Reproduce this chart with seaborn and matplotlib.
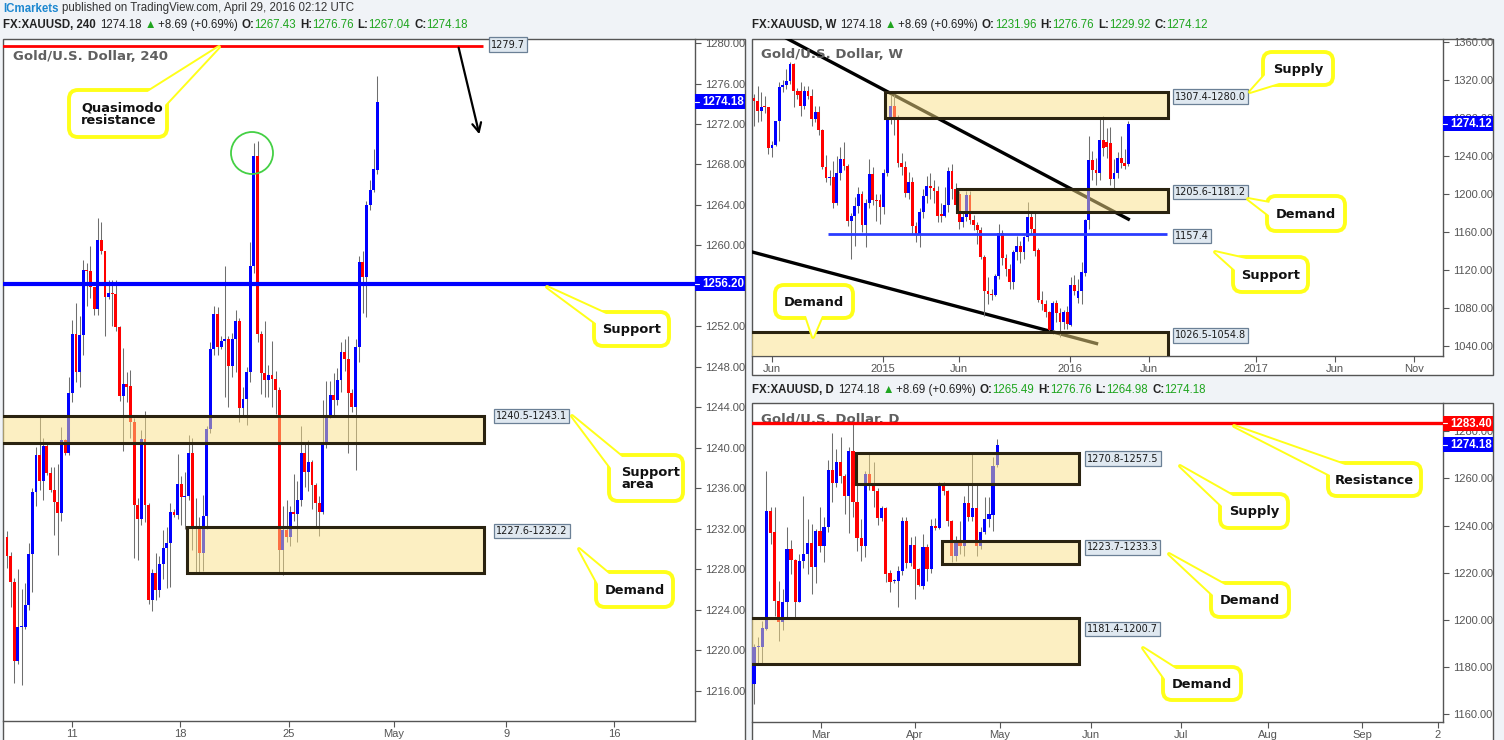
import numpy as np
import matplotlib
matplotlib.use("Agg")
import matplotlib.pyplot as plt
import seaborn as sns
from matplotlib.patches import Rectangle, FancyBboxPatch, Polygon, Circle

sns.set_theme(style="white")
plt.rcParams['font.family'] = ['Liberation Sans', 'DejaVu Sans']

W, H = 1504, 740

# ---------------- 4H candles (XAUUSD, April 2016) ----------------
h4_open = [1231.2, 1229.3, 1226.7, 1218.9, 1222.3, 1222.3, 1224.5, 1229.5, 1235.6, 1239.3,
           1236.7, 1240.2, 1237.5, 1235.8, 1234.6, 1233.6, 1240.8, 1239.5, 1245.4, 1251.2,
           1247.5, 1251.1, 1257.6, 1257.5, 1255.9, 1253.7, 1260.5, 1259.4, 1254.9, 1255.3,
           1255.2, 1251.9, 1245.1, 1246.3, 1246.1, 1242.5, 1234.3, 1233.0, 1240.9, 1234.3,
           1225.0, 1227.6, 1225.9, 1228.5, 1230.1, 1230.6, 1233.7, 1233.4, 1236.4, 1235.1,
           1235.2, 1239.5, 1232.0, 1232.3, 1229.6, 1233.3, 1241.9, 1249.8, 1253.2, 1250.0,
           1250.6, 1250.8, 1248.1, 1250.8, 1252.5, 1243.9, 1244.8, 1247.5, 1258.0, 1268.8,
           1251.2, 1247.4, 1246.7, 1247.2, 1246.8, 1245.7, 1229.9, 1231.9, 1231.2, 1233.7,
           1233.5, 1234.8, 1239.5, 1237.6, 1238.6, 1236.3, 1234.5, 1233.7, 1240.6, 1243.1,
           1245.2, 1244.7, 1246.7, 1249.5, 1248.8, 1245.4, 1244.0, 1250.0, 1258.4, 1256.9,
           1264.0, 1265.5, 1267.43]
h4_close = [1229.3, 1226.7, 1218.9, 1222.3, 1222.4, 1224.5, 1229.5, 1235.6, 1239.3, 1236.7,
            1240.2, 1237.5, 1235.8, 1234.6, 1233.6, 1240.8, 1239.5, 1245.4, 1251.2, 1247.5,
            1251.1, 1257.6, 1257.5, 1255.9, 1253.7, 1260.5, 1259.4, 1254.9, 1255.3, 1255.2,
            1251.9, 1245.1, 1246.3, 1246.0, 1242.5, 1234.3, 1233.0, 1240.9, 1234.3, 1225.0,
            1227.6, 1225.9, 1228.5, 1230.1, 1230.6, 1233.7, 1233.4, 1236.4, 1235.1, 1235.2,
            1239.5, 1232.0, 1232.3, 1229.6, 1233.3, 1241.9, 1249.8, 1253.2, 1250.0, 1250.6,
            1250.8, 1248.1, 1250.8, 1252.5, 1243.9, 1244.8, 1247.5, 1258.0, 1268.8, 1251.2,
            1247.4, 1246.7, 1247.2, 1246.8, 1245.7, 1229.9, 1231.9, 1231.2, 1233.7, 1233.5,
            1234.8, 1239.5, 1237.6, 1238.6, 1236.3, 1234.5, 1233.7, 1240.6, 1243.1, 1245.2,
            1244.7, 1246.7, 1249.5, 1248.8, 1245.4, 1244.0, 1250.0, 1258.4, 1256.9, 1264.0,
            1265.5, 1267.6, 1274.18]
h4_high = [1231.8, 1229.7, 1227.1, 1228.0, 1226.0, 1226.6, 1230.6, 1236.0, 1240.1, 1243.1,
           1241.0, 1240.4, 1238.1, 1238.1, 1238.4, 1242.1, 1240.9, 1247.0, 1252.6, 1254.3,
           1253.0, 1258.6, 1258.3, 1259.9, 1255.9, 1262.7, 1262.3, 1259.4, 1256.6, 1256.6,
           1256.6, 1252.0, 1249.9, 1247.5, 1247.7, 1242.9, 1235.0, 1241.8, 1243.6, 1234.5,
           1228.0, 1229.6, 1229.3, 1231.9, 1232.2, 1234.5, 1234.0, 1239.4, 1237.2, 1237.6,
           1241.3, 1241.0, 1235.0, 1233.2, 1235.3, 1242.2, 1250.5, 1254.0, 1253.9, 1251.0,
           1258.0, 1251.0, 1251.3, 1253.6, 1252.8, 1246.0, 1248.0, 1260.3, 1270.1, 1270.3,
           1251.5, 1252.5, 1248.2, 1250.6, 1247.6, 1246.0, 1234.2, 1234.8, 1234.2, 1237.4,
           1236.7, 1242.2, 1240.5, 1240.8, 1238.8, 1236.5, 1235.2, 1244.7, 1246.6, 1246.6,
           1247.4, 1247.9, 1250.5, 1250.8, 1251.0, 1245.8, 1250.8, 1259.0, 1259.4, 1264.4,
           1266.5, 1269.5, 1276.76]
h4_low = [1228.1, 1224.3, 1216.8, 1218.6, 1216.6, 1222.1, 1224.0, 1225.7, 1234.2, 1235.8,
          1234.8, 1237.3, 1235.6, 1231.4, 1229.4, 1232.8, 1239.3, 1239.3, 1244.5, 1246.5,
          1246.0, 1249.2, 1254.0, 1254.8, 1253.1, 1253.1, 1259.2, 1251.0, 1254.7, 1252.0,
          1251.5, 1244.6, 1239.7, 1244.5, 1241.0, 1229.1, 1228.9, 1232.4, 1232.7, 1224.6,
          1223.9, 1225.0, 1225.3, 1227.0, 1226.1, 1226.2, 1233.2, 1233.0, 1232.4, 1232.0,
          1234.8, 1229.9, 1227.7, 1227.6, 1227.8, 1232.0, 1241.5, 1249.2, 1249.2, 1249.8,
          1245.0, 1244.0, 1247.0, 1247.5, 1242.5, 1243.0, 1242.3, 1246.5, 1257.3, 1250.5,
          1245.3, 1245.0, 1245.0, 1244.0, 1243.3, 1227.7, 1227.4, 1230.7, 1230.3, 1232.8,
          1230.7, 1234.2, 1236.1, 1235.7, 1234.0, 1232.3, 1231.3, 1233.5, 1240.0, 1242.9,
          1243.0, 1244.2, 1245.5, 1247.6, 1239.5, 1243.5, 1237.8, 1248.5, 1253.3, 1252.9,
          1263.5, 1265.3, 1267.04]
h4_ticks = [17.9, 47.7, 77.7, 106.6, 137.5, 167.2]
h4_tick_labels = ['11', '18', '25', 'May', '9', '16']
h4_price_ticks = [1216, 1220, 1224, 1228, 1232, 1236, 1240, 1244, 1248, 1252, 1260, 1264, 1268,
                  1272, 1276, 1280]

# ---------------- Weekly candles (Apr 2014 - Apr 2016) ----------------
w_open = [1301.3, 1298.5, 1287.2, 1292.1, 1291.4, 1248.5, 1252.0, 1276.7, 1313.3, 1315.4,
          1319.6, 1337.2, 1308.3, 1309.0, 1292.8, 1309.0, 1303.8, 1279.1, 1286.2, 1267.5,
          1228.1, 1216.8, 1218.3, 1190.1, 1221.8, 1236.9, 1229.9, 1171.1, 1177.1, 1187.7,
          1200.0, 1167.6, 1190.1, 1221.1, 1193.6, 1193.6, 1185.9, 1221.8, 1279.1, 1293.2,
          1280.2, 1232.3, 1228.8, 1200.7, 1212.3, 1166.6, 1157.1, 1180.6, 1198.2, 1208.8,
          1206.3, 1203.5, 1178.9, 1177.1, 1188.7, 1223.9, 1205.3, 1200.0, 1170.1, 1176.1,
          1199.3, 1172.5, 1167.6, 1162.0, 1133.8, 1097.9, 1094.4, 1093.7, 1113.8, 1158.5,
          1132.4, 1120.8, 1106.7, 1138.4, 1145.4, 1138.4, 1154.2, 1176.1, 1163.0, 1140.9,
          1088.1, 1083.9, 1075.1, 1056.4, 1084.6, 1074.0, 1064.5, 1075.8, 1061.7, 1104.3,
          1090.0, 1097.3, 1116.6, 1172.9, 1236.2, 1225.3, 1221.8, 1256.6, 1254.5, 1253.4,
          1215.8, 1221.8, 1238.0, 1232.3, 1231.96]
w_close = [1297.8, 1287.2, 1292.1, 1291.4, 1248.5, 1252.0, 1276.7, 1313.3, 1315.4, 1319.6,
           1337.2, 1308.3, 1305.0, 1292.8, 1309.0, 1303.8, 1279.1, 1286.2, 1267.5, 1228.1,
           1216.8, 1217.6, 1190.1, 1221.8, 1236.9, 1229.9, 1171.1, 1177.1, 1187.7, 1200.0,
           1167.6, 1190.1, 1221.1, 1193.6, 1192.9, 1185.9, 1221.8, 1279.1, 1293.2, 1280.2,
           1232.3, 1228.8, 1200.7, 1212.3, 1166.6, 1157.1, 1180.6, 1198.2, 1208.8, 1206.3,
           1203.5, 1177.1, 1177.1, 1188.7, 1223.9, 1205.3, 1188.7, 1170.1, 1176.1, 1199.3,
           1172.5, 1167.6, 1162.0, 1133.1, 1097.9, 1094.4, 1093.7, 1113.8, 1158.5, 1132.4,
           1120.8, 1106.7, 1138.4, 1145.4, 1138.4, 1154.2, 1176.1, 1163.0, 1140.2, 1088.1,
           1083.9, 1075.1, 1056.4, 1084.6, 1074.0, 1064.5, 1075.8, 1062.8, 1104.3, 1097.3,
           1097.3, 1117.3, 1172.9, 1236.2, 1225.3, 1221.8, 1256.6, 1248.8, 1249.2, 1215.8,
           1221.8, 1238.0, 1232.3, 1229.9, 1274.12]
w_high = [1305.5, 1314.3, 1307.3, 1303.8, 1292.0, 1256.3, 1277.4, 1317.8, 1320.0, 1331.9,
          1338.9, 1338.0, 1312.0, 1317.8, 1314.0, 1314.3, 1310.8, 1292.8, 1293.2, 1268.6,
          1241.0, 1225.0, 1235.1, 1240.4, 1249.2, 1254.5, 1232.0, 1180.0, 1196.5, 1207.0,
          1203.0, 1195.0, 1236.9, 1228.0, 1200.0, 1200.0, 1226.4, 1280.0, 1304.8, 1304.8,
          1283.0, 1243.0, 1235.1, 1222.8, 1218.0, 1170.0, 1185.0, 1205.0, 1219.3, 1222.0,
          1215.0, 1208.0, 1190.0, 1207.0, 1228.1, 1231.6, 1212.0, 1203.5, 1182.0, 1203.5,
          1203.0, 1178.0, 1170.0, 1165.0, 1136.0, 1112.0, 1100.0, 1116.0, 1168.3, 1162.0,
          1137.0, 1126.0, 1140.9, 1156.0, 1150.0, 1156.0, 1191.2, 1182.4, 1182.0, 1143.0,
          1097.9, 1088.0, 1077.0, 1087.4, 1088.0, 1080.0, 1078.0, 1082.0, 1112.0, 1115.0,
          1110.0, 1127.8, 1174.0, 1261.5, 1245.0, 1238.0, 1281.2, 1282.6, 1270.0, 1270.3,
          1237.0, 1243.9, 1261.5, 1248.0, 1276.76]
w_low = [1272.1, 1275.6, 1277.4, 1285.0, 1242.2, 1239.4, 1251.0, 1256.3, 1308.0, 1311.0,
         1316.0, 1291.4, 1300.0, 1282.6, 1290.0, 1300.0, 1272.1, 1276.0, 1262.0, 1226.4,
         1212.3, 1209.0, 1185.0, 1188.0, 1215.0, 1225.0, 1166.6, 1131.4, 1145.4, 1180.0,
         1160.0, 1143.7, 1185.0, 1188.0, 1171.8, 1168.0, 1179.0, 1219.0, 1274.0, 1262.0,
         1228.1, 1220.0, 1197.0, 1195.0, 1157.8, 1149.0, 1143.7, 1175.0, 1190.0, 1195.0,
         1190.0, 1170.0, 1170.0, 1176.0, 1181.0, 1195.0, 1180.0, 1163.0, 1165.0, 1172.0,
         1168.0, 1162.0, 1147.2, 1131.4, 1071.6, 1083.9, 1088.0, 1092.7, 1110.0, 1125.0,
         1113.0, 1099.7, 1100.0, 1130.0, 1127.0, 1131.4, 1150.0, 1158.0, 1135.0, 1085.6,
         1078.0, 1070.0, 1054.0, 1052.2, 1065.0, 1048.7, 1058.0, 1058.0, 1061.0, 1093.0,
         1085.0, 1083.9, 1113.0, 1163.0, 1214.7, 1210.0, 1215.0, 1240.0, 1238.0, 1210.0,
         1205.3, 1217.0, 1227.0, 1226.0, 1229.92]
w_ticks = [5.0, 35.8, 57.0, 87.8, 109.7, 139.4, 161.4, 183.3]
w_tick_labels = ['Jun', '2015', 'Jun', '2016', 'Jun', '2017', 'Jun', 'Nov']
w_price_ticks = [1040, 1080, 1120, 1160, 1200, 1240, 1280, 1320, 1360]

# ---------------- Daily candles (Feb - Apr 2016) ----------------
d_open = [1172.9, 1188.7, 1188.4, 1196.2, 1246.3, 1237.1, 1208.2, 1199.0, 1207.5, 1230.1,
          1225.4, 1207.8, 1225.1, 1228.0, 1232.6, 1222.3, 1237.8, 1231.2, 1239.3, 1263.5,
          1257.9, 1266.8, 1261.1, 1252.4, 1271.5, 1249.8, 1234.7, 1231.5, 1261.9, 1257.3,
          1254.5, 1243.2, 1247.4, 1219.8, 1216.4, 1216.4, 1220.6, 1241.8, 1224.0, 1231.9,
          1221.6, 1214.5, 1230.8, 1221.6, 1240.0, 1239.0, 1257.3, 1254.5, 1241.8, 1227.0,
          1232.5, 1231.5, 1249.7, 1243.5, 1247.4, 1231.5, 1237.1, 1242.8, 1244.6, 1265.49]
d_close = [1188.7, 1188.8, 1196.6, 1246.3, 1236.7, 1208.2, 1199.0, 1207.5, 1230.1, 1225.4,
           1207.8, 1225.1, 1228.0, 1232.6, 1222.3, 1237.8, 1231.2, 1239.3, 1263.5, 1257.9,
           1266.8, 1261.1, 1252.4, 1271.7, 1249.8, 1234.7, 1231.5, 1261.9, 1257.3, 1254.5,
           1243.2, 1247.4, 1219.5, 1216.2, 1216.7, 1220.9, 1241.8, 1224.0, 1231.9, 1221.6,
           1215.0, 1230.8, 1221.6, 1240.0, 1239.0, 1257.3, 1254.5, 1241.8, 1227.0, 1232.5,
           1231.5, 1249.7, 1243.5, 1247.4, 1231.5, 1237.1, 1242.8, 1244.9, 1265.4, 1274.18]
d_high = [1190.0, 1192.6, 1199.7, 1263.3, 1248.0, 1248.0, 1216.7, 1213.1, 1239.5, 1233.9,
          1226.0, 1228.0, 1252.7, 1242.8, 1240.7, 1238.5, 1248.0, 1243.8, 1267.8, 1279.2,
          1272.4, 1277.7, 1262.0, 1273.2, 1283.0, 1261.1, 1242.8, 1263.3, 1270.3, 1266.8,
          1256.0, 1248.4, 1248.0, 1221.0, 1217.5, 1223.0, 1243.5, 1243.8, 1235.0, 1235.7,
          1222.0, 1236.4, 1232.2, 1242.8, 1243.2, 1258.3, 1258.3, 1255.0, 1242.5, 1235.7,
          1242.1, 1252.7, 1257.9, 1270.3, 1257.9, 1239.3, 1252.2, 1252.2, 1269.2, 1276.76]
d_low = [1164.4, 1181.3, 1181.3, 1195.8, 1232.2, 1201.8, 1191.2, 1195.8, 1201.1, 1219.5,
         1201.1, 1207.5, 1222.0, 1219.5, 1211.0, 1215.5, 1229.0, 1224.4, 1237.1, 1249.8,
         1256.2, 1258.0, 1244.9, 1236.7, 1243.5, 1229.4, 1225.1, 1226.5, 1255.0, 1247.7,
         1240.4, 1242.1, 1215.9, 1211.7, 1215.8, 1205.4, 1219.0, 1222.0, 1222.9, 1208.9,
         1214.5, 1213.0, 1216.7, 1220.0, 1238.0, 1238.5, 1253.0, 1240.0, 1224.4, 1225.1,
         1228.0, 1227.2, 1242.0, 1242.1, 1227.2, 1230.1, 1236.5, 1239.5, 1237.6, 1264.98]
d_ticks = [16.3, 39.1, 59.7, 81.8, 103.6, 124.8, 147.6, 166.0]
d_tick_labels = ['Mar', 'Apr', 'May', 'Jun', 'Jul', 'Aug', 'Sep', '2']
d_price_ticks = [1160, 1180, 1200, 1220, 1240, 1260, 1280]

# zones: (low, high, start index, end index)
h4_zones = [(1240.5, 1243.1, -2, 131.4), (1227.6, 1232.2, 49.6, 131.4)]
w_zones = [(1280.0, 1307.4, 36.4, 115.0), (1181.2, 1205.6, 56.4, 115.0), (1026.5, 1054.8, -2, 115.0)]
d_zones = [(1257.5, 1270.8, 24.8, 78.9), (1223.7, 1233.3, 45.6, 78.9), (1181.4, 1200.7, -2, 78.9)]
w_trend_upper = ([5.0, 104.4], [1372.5, 1172.6])
w_trend_lower = ([-2.0, 95.6], [1140.3, 1041.7])

BLUE, RED, WICK = '#0000ff', '#ff0000', '#6e6e6e'
FRAME, TXT = '#555555', '#555555'
ZFACE, ZEDGE = (0.984, 0.882, 0.53, 0.5), '#2a2310'
YEL = '#ffff1a'

fig = plt.figure(figsize=(W / 100, H / 100), dpi=100)
fig.patch.set_facecolor('#f0f3f7')


def fig_rect(x0, y0, x1, y1, **kw):
    fig.add_artist(Rectangle((x0 / W, 1 - y1 / H), (x1 - x0) / W, (y1 - y0) / H,
                             transform=fig.transFigure, **kw))


def px_axes(x0, y0, x1, y1):
    return fig.add_axes([x0 / W, 1 - y1 / H, (x1 - x0) / W, (y1 - y0) / H], zorder=1)


# panel frames
fig_rect(3, 39, 745, 760, facecolor='white', edgecolor=FRAME, lw=1, zorder=-10)
fig_rect(752, 39, 1493, 375, facecolor='white', edgecolor=FRAME, lw=1, zorder=-10)
fig_rect(752, 403, 1493, 760, facecolor='white', edgecolor=FRAME, lw=1, zorder=-10)


def candles(ax, o, h, l, c, width, min_body):
    o, h, l, c = map(np.asarray, (o, h, l, c))
    idx = np.arange(len(o))
    up = c >= o
    ax.vlines(idx, l, h, color=WICK, lw=0.75, zorder=2)
    body = np.maximum(np.abs(c - o), min_body)
    ax.bar(idx, body, bottom=np.minimum(o, c), width=width,
           color=np.where(up, BLUE, RED), linewidth=0, zorder=3)


def style(ax, xlim, ylim, yticks, xticks, xlabels):
    ax.set_xlim(*xlim)
    ax.set_ylim(*ylim)
    ax.patch.set_alpha(0)
    for s in ['left', 'top']:
        ax.spines[s].set_visible(False)
    for s in ['right', 'bottom']:
        ax.spines[s].set_color(FRAME)
        ax.spines[s].set_linewidth(1)
    ax.yaxis.tick_right()
    ax.set_yticks(yticks)
    ax.set_yticklabels([f'{v:.2f}' for v in yticks])
    ax.set_xticks(xticks)
    ax.set_xticklabels(xlabels)
    ax.tick_params(axis='both', direction='out', length=4, width=0.8, color=FRAME,
                   labelcolor=TXT, labelsize=8, bottom=True, right=True, left=False)
    ax.tick_params(axis='y', pad=3)
    ax.tick_params(axis='x', pad=1.5)
    ax.grid(False)


def zones(ax, zs):
    for lo, hi, x0, x1 in zs:
        ax.add_patch(Rectangle((x0, lo), x1 - x0, hi - lo, facecolor=ZFACE,
                               edgecolor=ZEDGE, lw=2.2, zorder=4))


# ---- 4H panel ----
a4 = px_axes(3, 39, 695, 721)
candles(a4, h4_open, h4_high, h4_low, h4_close, 0.8, 0.1)
zones(a4, h4_zones)
a4.hlines(1279.7, -2, 131.1, color=RED, lw=2, zorder=5)
a4.axhline(1256.2, color=BLUE, lw=3, zorder=5)
style(a4, (-1.1, 189.5), (1213.0, 1280.4), h4_price_ticks, h4_ticks, h4_tick_labels)
a4.text(0.014, 0.974, 'Gold/U.S. Dollar, 240', transform=a4.transAxes, fontsize=9.5,
        fontweight='bold', color='#606060', va='center', ha='left', family='DejaVu Sans')

# ---- Weekly panel ----
aw = px_axes(752, 39, 1443, 356)
aw.plot(*w_trend_upper, color='black', lw=2.4, zorder=1.5, solid_capstyle='butt')
aw.plot(*w_trend_lower, color='black', lw=2.4, zorder=1.5, solid_capstyle='butt')
candles(aw, w_open, w_high, w_low, w_close, 0.8, 1.0)
zones(aw, w_zones)
aw.hlines(1157.4, 20.6, 114.7, color='#2a3cff', lw=2, zorder=5)
style(aw, (-0.56, 191.4), (1029.0, 1363.6), w_price_ticks, w_ticks, w_tick_labels)
aw.text(0.013, 0.95, 'Gold/U.S. Dollar, W', transform=aw.transAxes, fontsize=9.5,
        fontweight='bold', color='#606060', va='center', ha='left', family='DejaVu Sans')

# ---- Daily panel ----
ad = px_axes(752, 403, 1443, 722)
candles(ad, d_open, d_high, d_low, d_close, 0.78, 0.45)
zones(ad, d_zones)
ad.axhline(1283.4, color=RED, lw=2.4, zorder=5)
style(ad, (-0.49, 167.2), (1156.8, 1291.9), d_price_ticks, d_ticks, d_tick_labels)
ad.text(0.013, 0.947, 'Gold/U.S. Dollar, D', transform=ad.transAxes, fontsize=9.5,
        fontweight='bold', color='#606060', va='center', ha='left', family='DejaVu Sans', zorder=1)

# ---- overlay in pixel coordinates ----
ov = fig.add_axes([0, 0, 1, 1], zorder=10)
ov.set_xlim(0, W)
ov.set_ylim(H, 0)
ov.axis('off')
ov.patch.set_alpha(0)
renderer = fig.canvas.get_renderer()


def pieces(x, y, parts, size=8.3):
    for txt, col, wt, gap in parts:
        t = ov.text(x, y, txt, color=col, fontsize=size, fontweight=wt, ha='left', va='center',
                    family=['Liberation Sans', 'DejaVu Sans'])
        x += t.get_window_extent(renderer=renderer).width + gap


DARK, GRN = '#222222', '#1fa51f'


def ohlc_header(x, y, name, o, h, l, c):
    pieces(x, y, [(name, DARK, 'bold', 4), ('1274.18', DARK, 'normal', 3), ('\u25b2', GRN, 'normal', 2),
                  ('+8.69 (+0.69%)', DARK, 'normal', 4),
                  ('O:', DARK, 'bold', 0), (o, GRN, 'normal', 4),
                  ('H:', DARK, 'bold', 0), (h, GRN, 'normal', 4),
                  ('L:', DARK, 'bold', 0), (l, GRN, 'normal', 4),
                  ('C:', DARK, 'bold', 0), (c, GRN, 'normal', 0)])


pieces(3, 8.5, [('ICmarkets', '#1e88d0', 'bold', 3),
                ('published on TradingView.com, April 29, 2016 02:12 UTC', '#333333', 'normal', 0)])
ohlc_header(3, 25, 'FX:XAUUSD, 240', '1267.43', '1276.76', '1267.04', '1274.18')
ohlc_header(752, 25, 'FX:XAUUSD, W', '1231.96', '1276.76', '1229.92', '1274.12')
ohlc_header(752, 390, 'FX:XAUUSD, D', '1265.49', '1276.76', '1264.98', '1274.18')


def ypx(ax, price):
    return H - ax.transData.transform((0, price))[1]


def price_tag(ax, price, text, color, x0, x1):
    y = ypx(ax, price)
    ov.add_patch(Rectangle((x0, y - 7.5), x1 - x0, 15, facecolor=color, edgecolor='none', zorder=3))
    ov.plot([x0, x0 + 4], [y, y], color='white', lw=0.8, zorder=4)
    ov.text(x0 + 7, y + 0.5, text, color='white', fontsize=8.3, fontweight='bold', ha='left',
            va='center', zorder=5)


price_tag(a4, 1274.18, '1274.18', BLUE, 695, 745)
price_tag(a4, 1256.2, '1256.20', BLUE, 695, 745)
price_tag(aw, 1274.12, '1274.12', BLUE, 1443, 1493)
price_tag(ad, 1283.4, '1283.40', RED, 1443, 1493)
price_tag(ad, 1274.18, '1274.18', BLUE, 1443, 1493)


def value_label(x, y, text):
    ov.text(x, y, text, fontsize=7, family='DejaVu Sans', color='#1a1a1a', ha='left', va='center',
            zorder=5, bbox=dict(boxstyle='square,pad=0.22', facecolor='#dfe8f0', edgecolor='#6b8096', lw=0.9))


value_label(491, 44.5, '1279.7')
value_label(496, 416, '1240.5-1243.1')
value_label(496, 531, '1227.6-1232.2')
value_label(1175, 96.5, '1307.4-1280.0')
value_label(1175, 192, '1205.6-1181.2')
value_label(1175, 236, '1157.4')
value_label(1175, 335.5, '1026.5-1054.8')
value_label(1087, 458.5, '1270.8-1257.5')
value_label(1087, 547.5, '1223.7-1233.3')
value_label(1087, 629, '1181.4-1200.7')


def callout(box, base, tip, text, align='center'):
    x0, y0, x1, y1 = box
    tri = [base[0], tip, base[1]]
    ov.add_patch(Polygon(tri, closed=True, facecolor='white', edgecolor=YEL, lw=2.8,
                         joinstyle='round', zorder=6))
    ov.add_patch(FancyBboxPatch((x0 + 6, y0 + 6), x1 - x0 - 12, y1 - y0 - 12,
                                boxstyle='round,pad=6,rounding_size=9', facecolor='white',
                                edgecolor=YEL, lw=2.8, zorder=7))
    ov.add_patch(Polygon(tri, closed=True, facecolor='white', edgecolor='none', zorder=8))
    if align == 'center':
        ov.text((x0 + x1) / 2, (y0 + y1) / 2 + 0.5, text, ha='center', va='center', fontsize=9.4,
                fontweight='bold', color='#111111', family='DejaVu Sans', zorder=9, linespacing=0.95)
    else:
        ov.text(x0 + 12, (y0 + y1) / 2 + 0.5, text, ha='left', va='center', fontsize=9.4,
                fontweight='bold', color='#111111', family='DejaVu Sans', zorder=9, linespacing=0.95)


callout((69, 90, 167, 137), [(146, 93), (164, 106)], (219, 47), 'Quasimodo\nresistance', 'left')
callout((594, 312, 669, 346), [(606, 314), (597, 324)], (547, 287), 'Support')
callout((609, 455, 683, 501), [(622, 457), (611, 468)], (572, 416), 'Support\narea', 'left')
callout((596, 572, 673, 607), [(609, 574), (598, 584)], (579, 549), 'Demand')
callout((1263, 52, 1333, 85), [(1266, 74), (1279, 83)], (1250, 92), 'Supply')
callout((1267, 196, 1345, 231), [(1270, 203), (1270, 216)], (1248, 199), 'Demand')
callout((1233, 257, 1308, 292), [(1246, 259), (1235, 270)], (1215, 252), 'Support')
callout((775, 285, 853, 318), [(806, 316), (822, 316)], (813, 337), 'Demand')
callout((1328, 463, 1421, 496), [(1345, 465), (1330, 475)], (1234, 426), 'Resistance')
callout((1220, 494, 1288, 528), [(1233, 496), (1222, 506)], (1180, 466), 'Supply')
callout((1211, 583, 1289, 617), [(1225, 585), (1213, 595)], (1169, 554), 'Demand')
callout((1163, 667, 1241, 700), [(1176, 669), (1165, 679)], (1143, 648), 'Demand')

# marks on the 4H chart
ov.add_patch(Circle((252, 153), 21, fill=False, edgecolor='#44d044', lw=1.3, zorder=4))
ov.annotate('', xy=(480, 137), xytext=(458, 45),
            arrowprops=dict(arrowstyle='->', color='black', lw=1.6, mutation_scale=16), zorder=4)

fig.savefig('out.png', dpi=100, facecolor=fig.get_facecolor())
